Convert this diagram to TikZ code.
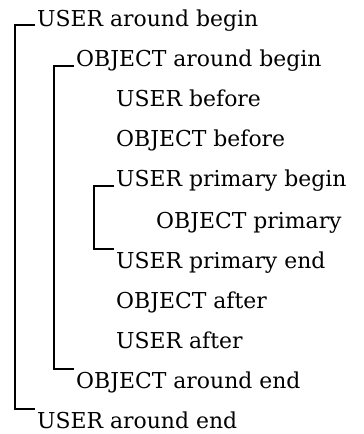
\documentclass[tikz,border=0pt]{standalone}
\usepackage{fontspec}
\setmainfont{DejaVu Serif}
\begin{document}
\begin{tikzpicture}[x=1bp,y=-1bp,
    every node/.style={anchor=base west,inner sep=0pt,font=\fontsize{22}{26}\selectfont},
    bracket/.style={line width=2bp}]
      \useasboundingbox (0,0) rectangle (363,434);
      \draw
        (37,27) node (0){USER around begin}
        (76,67) node (1){OBJECT around begin}
        (116,107) node (2){USER before}
        (116,147) node (3){OBJECT before}
        (116,187) node (4){USER primary begin}
        (156,228) node (5){OBJECT primary}
        (116,268) node (6){USER primary end}
        (116,308) node (7){OBJECT after}
        (116,348) node (8){USER after}
        (76,388) node (9){OBJECT around end}
        (37,428) node (10){USER around end};
      \begin{scope}[bracket]
        \draw (0.base west) ++(-2,-2) -- ++(-20,0) |- ([shift={(-2,-2)}]10.north west);
        \draw (1.base west) ++(-2,-1) -- ++(-20,0) |- ([shift={(-2,-2)}]9.north west);
        \draw (4.base west) ++(-2,-1) -- ++(-20,0) |- ([shift={(-2,-2)}]6.north west);
      \end{scope}
    \end{tikzpicture}
\end{document}
